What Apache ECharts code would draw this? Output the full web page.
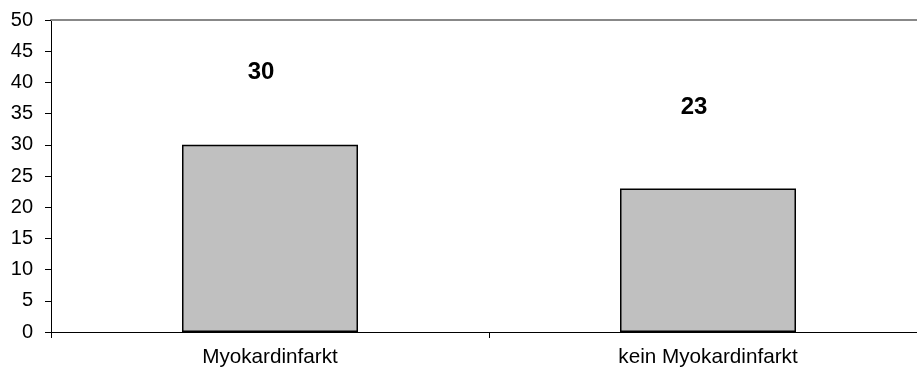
<!DOCTYPE html>
<html>
<head>
<meta charset="utf-8">
<script src="https://cdn.jsdelivr.net/npm/echarts@6/dist/echarts.min.js"></script>
<style>
  html, body { margin: 0; padding: 0; background: #fff; overflow: hidden; }
  /* the plot runs a little past the right edge of the window */
  #chart { width: 927px; height: 376px; }
</style>
</head>
<body>
<div id="chart"></div>
<script>
// Categories and counts
const categories = ['Myokardinfarkt', 'kein Myokardinfarkt'];
const counts = [30, 23];
const yTicks = { min: 0, max: 50, step: 5 };

// Per-bar spacing of the value label above the bar
const labelGap = [60, 69];
const labelShift = [-9, -14];

const font = '"Liberation Sans", Arial, sans-serif';

const chart = echarts.init(document.getElementById('chart'), null, { renderer: 'canvas' });

chart.setOption({
  animation: false,
  backgroundColor: '#ffffff',
  grid: { left: 51, top: 20, width: 876, height: 312, containLabel: false },
  xAxis: [
    {
      type: 'category',
      data: categories,
      position: 'bottom',
      axisLine: { show: true, lineStyle: { color: '#000', width: 1 } },
      axisTick: { show: true, alignWithLabel: false, length: 6, lineStyle: { color: '#000' } },
      axisLabel: { color: '#000', fontFamily: font, fontSize: 20.7, margin: 15 },
      splitLine: { show: false }
    },
    {
      type: 'category',
      data: categories,
      position: 'top',
      axisLine: { show: true, lineStyle: { color: '#888', width: 2 } },
      axisTick: { show: false },
      axisLabel: { show: false },
      splitLine: { show: false }
    }
  ],
  yAxis: {
    type: 'value',
    min: yTicks.min,
    max: yTicks.max,
    interval: yTicks.step,
    axisLine: { show: true, lineStyle: { color: '#000', width: 1 } },
    axisTick: { show: true, length: 6, lineStyle: { color: '#000' } },
    axisLabel: { color: '#000', fontFamily: font, fontSize: 20, margin: 18 },
    splitLine: { show: false }
  },
  series: [{
    type: 'bar',
    xAxisIndex: 0,
    barWidth: 176,
    data: counts.map((v, i) => ({
      value: v,
      label: { distance: labelGap[i], offset: [labelShift[i], 0] }
    })),
    itemStyle: { color: '#c0c0c0', borderColor: '#000', borderWidth: 1.5 },
    label: {
      show: true,
      position: 'top',
      color: '#000',
      fontFamily: font,
      fontSize: 24,
      fontWeight: 'bold'
    }
  }]
});
</script>
</body>
</html>
